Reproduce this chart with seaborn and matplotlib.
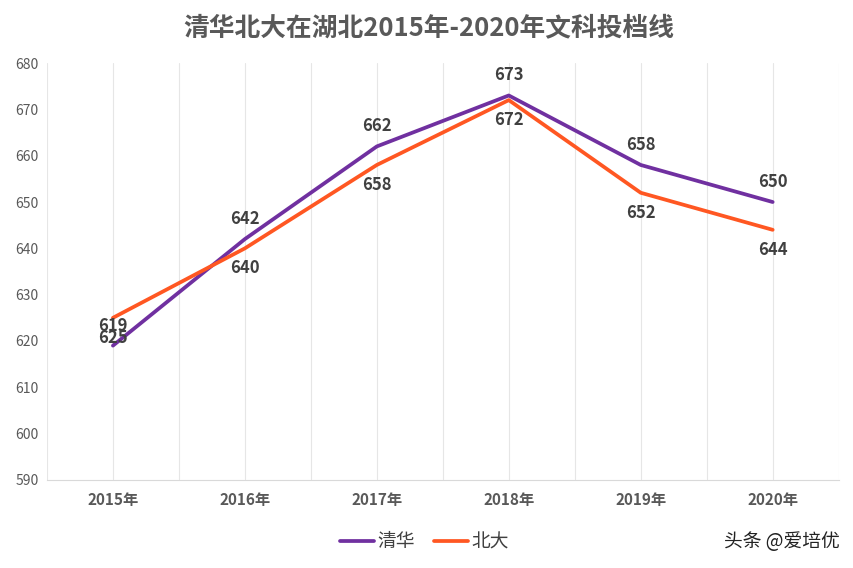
# 清华北大在湖北2015-2020年文科投档线 折线图

import matplotlib
matplotlib.use('Agg')
import matplotlib.pyplot as plt
from matplotlib.ticker import MultipleLocator
import pandas as pd
import seaborn as sns

years = ['2015年', '2016年', '2017年', '2018年', '2019年', '2020年']
qinghua = [619, 642, 662, 673, 658, 650]
beida = [625, 640, 658, 672, 652, 644]
schools = ['清华', '北大']

df = pd.DataFrame({
    'year': years * 2,
    'score': qinghua + beida,
    'school': [schools[0]] * len(years) + [schools[1]] * len(years),
})

sns.set_style('white')
plt.rcParams['font.family'] = ['Noto Sans CJK SC', 'DejaVu Sans']

fig = plt.figure(figsize=(8.54, 5.68), dpi=100)
ax = fig.add_axes([0.055, 0.155, 0.927, 0.734])

colors = {'清华': '#7030A0', '北大': '#FF5722'}
sns.lineplot(data=df, x='year', y='score', hue='school', palette=colors,
             linewidth=2.7, ax=ax, legend=False, sort=False)

# 数据标签：清华在上，北大在下
for i, v in enumerate(qinghua):
    ax.annotate(str(v), (i, v), xytext=(0, 8), textcoords='offset points',
                ha='center', va='bottom', fontsize=12, fontweight='bold', color='#404040')
for i, v in enumerate(beida):
    ax.annotate(str(v), (i, v), xytext=(0, -8), textcoords='offset points',
                ha='center', va='top', fontsize=12, fontweight='bold', color='#404040')

ax.set_xlim(-0.5, 5.5)
ax.set_ylim(590, 680)
ax.yaxis.set_major_locator(MultipleLocator(10))
ax.xaxis.set_minor_locator(MultipleLocator(0.5))
ax.grid(axis='x', which='both', color='#E6E6E6', linewidth=0.8)
ax.grid(axis='y', visible=False)

for s in ['top', 'right', 'left']:
    ax.spines[s].set_visible(False)
ax.spines['bottom'].set_color('#D9D9D9')
ax.tick_params(axis='both', which='both', length=0)
ax.tick_params(axis='y', labelsize=10, labelcolor='#595959', pad=6)
ax.tick_params(axis='x', labelsize=11, labelcolor='#595959', pad=9)
for lab in ax.get_xticklabels():
    lab.set_fontweight('bold')

ax.set_xlabel('')
ax.set_ylabel('')

fig.suptitle('清华北大在湖北2015年-2020年文科投档线', x=0.502, y=0.975,
             fontsize=18.5, fontweight='bold', color='#595959')

handles = [plt.Line2D([], [], color=colors[s], linewidth=2.7) for s in schools]
fig.legend(handles, schools, loc='center', bbox_to_anchor=(0.497, 0.046), ncol=2,
           frameon=False, fontsize=13.5, handlelength=1.8, handletextpad=0.2,
           columnspacing=1.0, labelcolor='#404040')

fig.text(0.983, 0.047, '头条 @爱培优', ha='right', va='center', fontsize=13.5, color='#222222')

fig.savefig('out.png', dpi=100)
